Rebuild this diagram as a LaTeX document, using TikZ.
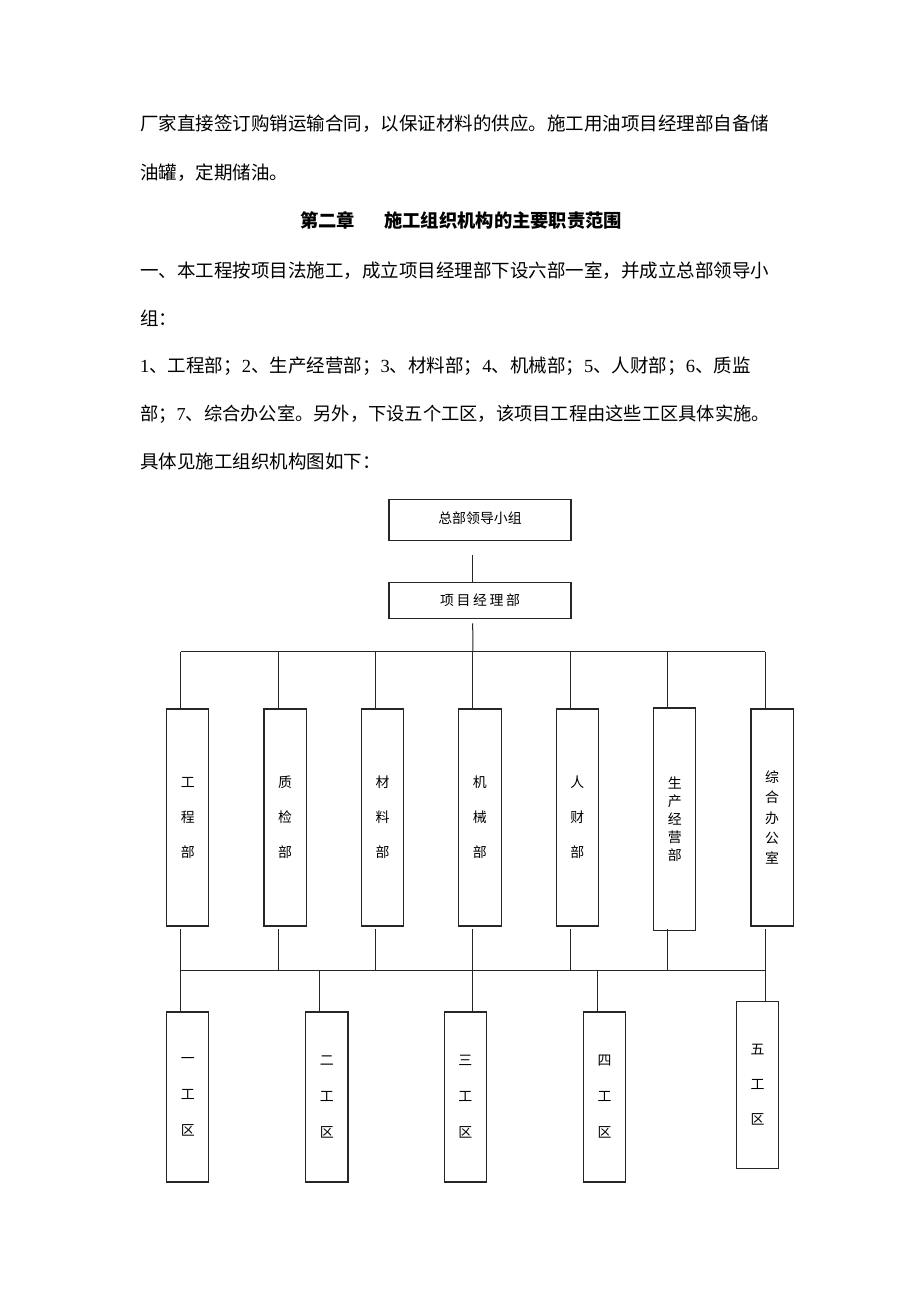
\documentclass[tikz,border=0pt]{standalone}
\usepackage{fontspec}
\setmainfont{Liberation Serif}
\newfontfamily\cjk{Noto Sans CJK SC}
\newfontfamily\latinfont{Liberation Serif}
\newcommand\dg[1]{{\latinfont #1}}
\begin{document}
\begin{tikzpicture}[x=1pt,y=-1pt,
  bodytext/.style={anchor=base west,inner sep=0pt,font={\cjk\fontsize{18.5}{22}\selectfont}},
  orgline/.style={line width=1pt,draw=black!85},
  wide/.style={draw=black!85,line width=1.1pt,minimum width=182pt,inner sep=0pt,font={\cjk\fontsize{13.9}{16}\selectfont}},
  tall/.style={draw=black!85,line width=1.1pt,minimum width=42.3pt,inner sep=0pt,align=center},
  sp35/.style={font={\cjk\fontsize{13.9}{35}\selectfont}},
  sp36/.style={font={\cjk\fontsize{13.9}{36}\selectfont}},
  sp18/.style={font={\cjk\fontsize{13.9}{18}\selectfont}},
  sp20/.style={font={\cjk\fontsize{13.9}{20.4}\selectfont}}
]
\useasboundingbox[fill=white] (0,0) rectangle (920,1302);

% body text
\node[bodytext] (l1) at (140,130) {厂家直接签订购销运输合同，以保证材料的供应。施工用油项目经理部自备储};
\node[bodytext] (l2) at (140,179.7) {油罐，定期储油。};
\node[bodytext,font={\cjk\bfseries\fontsize{18.3}{22}\selectfont}] (t1) at (300,227.7) {第二章};
\node[bodytext,font={\cjk\bfseries\fontsize{18.3}{22}\selectfont}] (t2) at (384,227.7) {施工组织机构的主要职责范围};
\node[bodytext] (l3) at (140,277) {一、本工程按项目法施工，成立项目经理部下设六部一室，并成立总部领导小};
\node[bodytext] (l4) at (140,325) {组：};
\node[bodytext] (l5) at (140,372) {\dg{1}、工程部；\dg{2}、生产经营部；\dg{3}、材料部；\dg{4}、机械部；\dg{5}、人财部；\dg{6}、质监};
\node[bodytext,font={\cjk\fontsize{18.25}{22}\selectfont}] (l6) at (140,420.3) {部；\dg{7}、综合办公室。另外，下设五个工区，该项目工程由这些工区具体实施。};
\node[bodytext] (l7) at (140,468.7) {具体见施工组织机构图如下：};

% top boxes
\node[wide,minimum height=41pt] (lead) at (480,519.7) {\raisebox{4.5pt}{总部领导小组}};
\node[wide,minimum height=36pt] (pm) at (480,600.2) {\raisebox{2pt}{项\hspace{2.6pt}目\hspace{2.6pt}经\hspace{2.6pt}理\hspace{2.6pt}部}};

% department boxes
\node[tall,sp35,minimum height=217pt] (d1) at (187.7,817.5) {工\\程\\部};
\node[tall,sp35,minimum height=217pt] (d2) at (285.1,817.5) {质\\检\\部};
\node[tall,sp35,minimum height=217pt] (d3) at (382.5,817.5) {材\\料\\部};
\node[tall,sp35,minimum height=217pt] (d4) at (479.9,817.5) {机\\械\\部};
\node[tall,sp35,minimum height=217pt] (d5) at (577.3,817.5) {人\\财\\部};
\node[tall,sp18,minimum height=222.7pt] (d6) at (674.7,819.3) {生\\产\\经\\营\\部};
\node[tall,sp20,minimum height=217pt] (d7) at (772.1,817.5) {综\\合\\办\\公\\室};

% work zone boxes
\node[tall,sp36,minimum height=170pt] (z1) at (187.7,1097) {一\\工\\区};
\node[tall,sp36,minimum height=170pt] (z2) at (326.8,1097) {二\\工\\区};
\node[tall,sp36,minimum height=170pt] (z3) at (465.4,1097) {三\\工\\区};
\node[tall,sp36,minimum height=170pt] (z4) at (604.6,1097) {四\\工\\区};
\node[tall,sp35,minimum height=167pt] (z5) at (757.6,1084.8) {五\\工\\区};

% connectors top
\coordinate (c1) at (472.7,555);
\draw[orgline] (c1) -- (c1 |- pm.north);
\coordinate (c2) at (472.7,623.3);
\coordinate (j1) at (180.7,651.7);
\coordinate (j2) at (278.1,651.7);
\coordinate (j3) at (375.5,651.7);
\coordinate (j4) at (472.9,651.7);
\coordinate (j5) at (570.3,651.7);
\coordinate (j6) at (667.7,651.7);
\coordinate (j7) at (765.1,651.7);
\draw[orgline] (c2) -- (j4);
\draw[orgline] (j1) -- (j7);
\foreach \i in {1,...,7} {\draw[orgline] (j\i) -- (j\i |- d\i.north);}

% connectors bottom
\foreach \i/\x in {1/180.7,2/278.1,3/375.5,4/472.9,5/570.3,6/667.7,7/765.1} {
  \coordinate (s\i) at (\x,929);
  \coordinate (k\i) at (\x,970);
  \draw[orgline] (s\i) -- (k\i);
}
\draw[orgline] (k1) -- (k7);
\coordinate (kz2) at (319.8,970);
\coordinate (kz4) at (597.3,970);
\draw[orgline] (k1) -- (k1 |- z1.north);
\draw[orgline] (kz2) -- (kz2 |- z2.north);
\draw[orgline] (k4) -- (k4 |- z3.north);
\draw[orgline] (kz4) -- (kz4 |- z4.north);
\draw[orgline] (k7) -- (k7 |- z5.north);
\end{tikzpicture}
\end{document}
